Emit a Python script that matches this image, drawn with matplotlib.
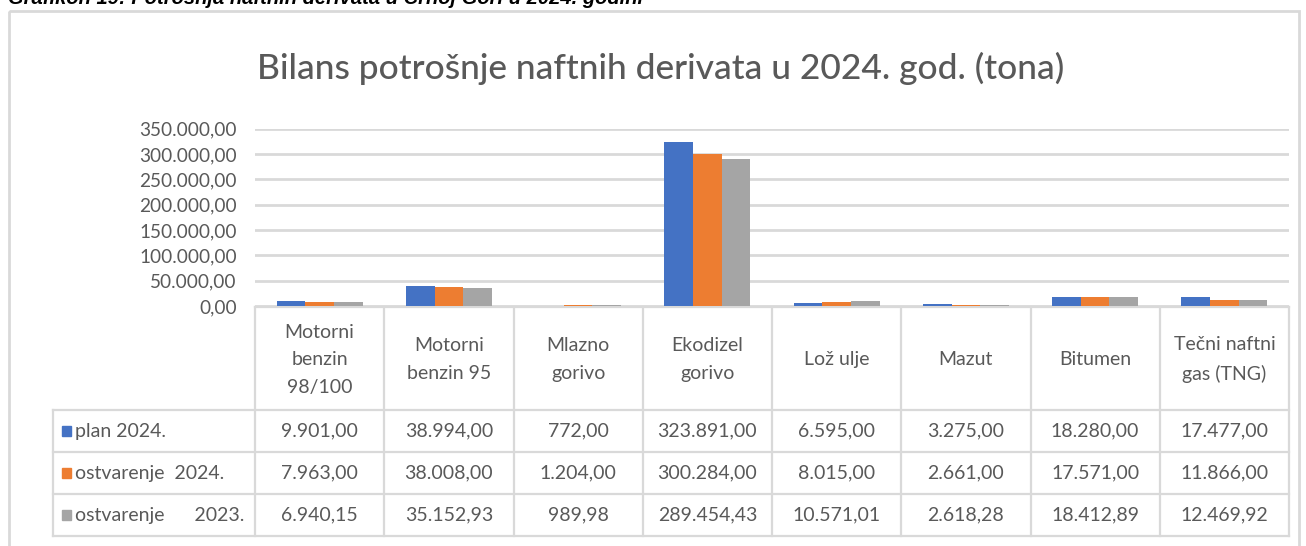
import numpy as np
import matplotlib
matplotlib.use("Agg")
import matplotlib.pyplot as plt
from matplotlib.lines import Line2D
from matplotlib.patches import Rectangle

W, H = 1306, 546

categories = ["Motorni\nbenzin\n98/100", "Motorni\nbenzin 95", "Mlazno\ngorivo", "Ekodizel\ngorivo",
              "Lož ulje", "Mazut", "Bitumen", "Tečni naftni\ngas (TNG)"]
series_names = ["plan 2024.", "ostvarenje  2024.", "ostvarenje      2023."]
plan_2024 = [9901.00, 38994.00, 772.00, 323891.00, 6595.00, 3275.00, 18280.00, 17477.00]
ostv_2024 = [7963.00, 38008.00, 1204.00, 300284.00, 8015.00, 2661.00, 17571.00, 11866.00]
ostv_2023 = [6940.15, 35152.93, 989.98, 289454.43, 10571.01, 2618.28, 18412.89, 12469.92]
colors = ["#4472C4", "#ED7D31", "#A5A5A5"]
yticks = [0, 50000, 100000, 150000, 200000, 250000, 300000, 350000]

title = "Bilans potrošnje naftnih derivata u 2024. god. (tona)"
caption = "Grafikon 19: Potrošnja naftnih derivata u Crnoj Gori u 2024. godini"

txt_col = "#595959"
line_col = "#d9d9d9"
font = "Lato"


def fmt(v):
    # 1234.5 -> 1.234,50
    s = f"{v:,.2f}"
    return s.replace(",", "X").replace(".", ",").replace("X", ".")


fig = plt.figure(figsize=(W / 100, H / 100), dpi=100)

# overlay in pixel coords for table, border and texts
ov = fig.add_axes([0, 0, 1, 1])
ov.set_xlim(0, W)
ov.set_ylim(H, 0)
ov.axis("off")

# plot area
x0, x1 = 255, 1289
y_top, y_zero = 128.7, 306
ax = fig.add_axes([x0 / W, 1 - y_zero / H, (x1 - x0) / W, (y_zero - y_top) / H])
ax.patch.set_alpha(0)

n = len(categories)
x = np.arange(n)
bw = 0.222
all_series = [plan_2024, ostv_2024, ostv_2023]
for i, vals in enumerate(all_series):
    ax.bar(x + (i - 1) * bw, vals, width=bw, color=colors[i], zorder=3)

ax.set_xlim(-0.5, n - 0.5)
ax.set_ylim(0, 350000)
ax.set_yticks(yticks)
ax.set_yticklabels([fmt(v) for v in yticks], fontsize=13.7, color=txt_col, family=font)
ax.set_xticks([])
ax.tick_params(axis="y", length=0, pad=13)
ax.grid(axis="y", color=line_col, linewidth=2, zorder=0)
for s in ax.spines.values():
    s.set_visible(False)

# outer border of the chart
ov.add_patch(Rectangle((9, 11), 1290, 600, fill=False, edgecolor=line_col, linewidth=2, clip_on=False))

# caption (cut at the top of the image, as in the source)
ov.text(8, 4.5, caption, fontsize=14.5, fontweight="bold", fontstyle="italic",
        family="Liberation Sans", color="black", va="baseline", ha="left")

ov.text(661, 68, title, fontsize=25.5, fontweight="medium", color=txt_col, family=font,
        ha="center", va="center")

# data table
col_w = (x1 - x0) / n
edges = [x0 + col_w * i for i in range(n + 1)]
row_y = [307, 410, 452, 494, 536]
lw = 1.6
ov.add_line(Line2D([x0, x1], [row_y[0], row_y[0]], color=line_col, lw=lw))
for yy in row_y[1:]:
    ov.add_line(Line2D([53, x1], [yy, yy], color=line_col, lw=lw))
for xx in edges:
    ov.add_line(Line2D([xx, xx], [row_y[0], row_y[-1]], color=line_col, lw=lw))
ov.add_line(Line2D([53, 53], [row_y[1], row_y[-1]], color=line_col, lw=lw))

for i, lab in enumerate(categories):
    ov.text((edges[i] + edges[i + 1]) / 2, (row_y[0] + row_y[1]) / 2 + 1, lab, ha="center", va="center",
            fontsize=14, color=txt_col, family=font, linespacing=1.75)

for r, vals in enumerate(all_series):
    yc = (row_y[r + 1] + row_y[r + 2]) / 2
    ov.add_patch(Rectangle((62, yc - 5), 9, 10, color=colors[r]))
    ov.text(75, yc, series_names[r], ha="left", va="center", fontsize=14, color=txt_col, family=font)
    for i, v in enumerate(vals):
        ov.text((edges[i] + edges[i + 1]) / 2, yc, fmt(v), ha="center", va="center",
                fontsize=14, color=txt_col, family=font)

fig.savefig("out.png", dpi=100)
